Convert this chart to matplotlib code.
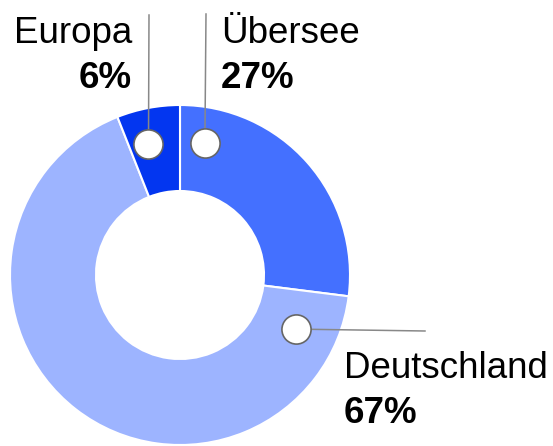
import numpy as np
import matplotlib
matplotlib.use("Agg")
import matplotlib.pyplot as plt

plt.rcParams['font.family'] = ['Liberation Sans', 'DejaVu Sans']

# data
regions = ["Übersee", "Deutschland", "Europa"]
shares = [27, 67, 6]
colors = ["#4470ff", "#9db4ff", "#0336f0"]

W, H = 553, 446
fig = plt.figure(figsize=(W / 100, H / 100), dpi=100)
ax = fig.add_axes([0, 0, 1, 1])

cx, cy = 180, H - 275
R = 170
ax.pie(shares, colors=colors, startangle=90, counterclock=False,
       center=(cx, cy), radius=R,
       wedgeprops=dict(width=86, edgecolor="white", linewidth=1.5))

ax.set_xlim(0, W)
ax.set_ylim(0, H)
ax.set_aspect("equal")
ax.axis("off")

# label markers: angle (deg), radius, line end (x, y), text anchor
labels = {
    "Übersee":     dict(ang=79.3, r=134, end=(206, H - 14), tx=221, ha="left", ty=H - 43),
    "Europa":      dict(ang=103.5, r=135, end=(149, H - 15), tx=132, ha="right", ty=H - 43),
    "Deutschland": dict(ang=-25.0, r=128, end=(425, H - 331), tx=344, ha="left", ty=H - 378),
}

for name, val in zip(regions, shares):
    p = labels[name]
    a = np.deg2rad(p["ang"])
    mx, my = cx + p["r"] * np.cos(a), cy + p["r"] * np.sin(a)
    ax.plot([mx, p["end"][0]], [my, p["end"][1]], color="#888888", lw=1.1, zorder=3)
    ax.plot(mx, my, "o", ms=21, mfc="white", mec="#666666", mew=1.2, zorder=4)
    ax.text(p["tx"], p["ty"], name, ha=p["ha"], va="baseline", fontsize=26.5)
    ax.text(p["tx"], p["ty"] - 45, f"{val}%", ha=p["ha"], va="baseline",
            fontsize=26.5, fontweight="bold")

fig.savefig("out.png", dpi=100)
